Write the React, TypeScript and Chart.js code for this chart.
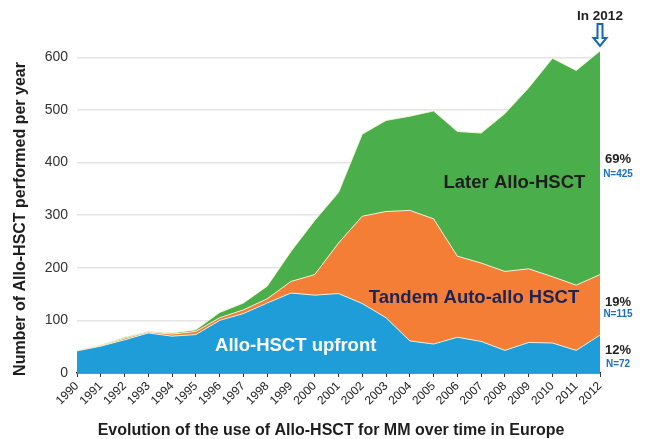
import React, { useEffect, useRef } from "react";
import { Chart, registerables } from "chart.js";

Chart.register(...registerables);

const years = [
  "1990", "1991", "1992", "1993", "1994", "1995", "1996", "1997", "1998", "1999", "2000",
  "2001", "2002", "2003", "2004", "2005", "2006", "2007", "2008", "2009", "2010", "2011", "2012",
];
const alloUpfront = [42, 51, 63, 76, 70, 73, 100, 113, 133, 152, 148, 151, 132, 105, 61, 55, 68, 60, 43, 58, 57, 43, 72];
const tandemAutoAllo = [1, 1, 3, 2, 4, 6, 5, 7, 8, 22, 39, 96, 166, 202, 248, 238, 154, 149, 150, 140, 126, 124, 115];
const laterAllo = [0, 1, 2, 1, 2, 3, 10, 13, 24, 57, 103, 96, 156, 173, 179, 205, 237, 247, 300, 344, 415, 408, 425];
const yTicks = [0, 100, 200, 300, 400, 500, 600];
const seriesNames = ["Allo-HSCT upfront", "Tandem Auto-allo HSCT", "Later Allo-HSCT"];
const sharePct = ["12%", "19%", "69%"];
const shareN = ["N=72", "N=115", "N=425"];

const BLUE = "#1f9dd8";
const ORANGE = "#f47e35";
const GREEN = "#4aaf4a";
const FONT = "'Liberation Sans', Arial, Helvetica, sans-serif";

export default function App() {
  const ref = useRef<HTMLCanvasElement | null>(null);

  useEffect(() => {
    document.body.style.margin = "0";
    const canvas = ref.current;
    if (!canvas) return;

    const overlay = {
      id: "overlay",
      afterDatasetsDraw(chart: any) {
        const ctx = chart.ctx;
        const xs = chart.scales.x;
        const ys = chart.scales.y;
        const area = chart.chartArea;
        ctx.save();
        ctx.textAlign = "center";
        ctx.textBaseline = "middle";

        // in-area series labels
        ctx.font = `bold 18.5px ${FONT}`;
        ctx.fillStyle = "#ffffff";
        ctx.fillText(seriesNames[0], xs.getPixelForValue(9.2), ys.getPixelForValue(52));
        ctx.fillStyle = "#1d2456";
        ctx.fillText(seriesNames[1], xs.getPixelForValue(16.7), ys.getPixelForValue(143));
        ctx.fillStyle = "#1e1e1e";
        ctx.fillText(seriesNames[2], xs.getPixelForValue(18.4), ys.getPixelForValue(361));

        // right side shares
        const rx = area.right + 18;
        const pctY = [42, 135, 405];
        const nY = [16, 111, 378];
        for (let i = 0; i < 3; i++) {
          ctx.font = `bold 13px ${FONT}`;
          ctx.fillStyle = "#222222";
          ctx.fillText(sharePct[i], rx, ys.getPixelForValue(pctY[i]));
          ctx.font = `bold 10px ${FONT}`;
          ctx.fillStyle = "#1a6fc0";
          ctx.fillText(shareN[i], rx, ys.getPixelForValue(nY[i]));
        }

        // "In 2012" + arrow
        const ax = xs.getPixelForValue(years.length - 1);
        ctx.font = `bold 13.5px ${FONT}`;
        ctx.fillStyle = "#222222";
        ctx.fillText("In 2012", ax, 16);
        const top = 24, shaftBottom = 38, tip = 46, sw = 2.5, hw = 6.5;
        ctx.beginPath();
        ctx.moveTo(ax - sw, top);
        ctx.lineTo(ax + sw, top);
        ctx.lineTo(ax + sw, shaftBottom);
        ctx.lineTo(ax + hw, shaftBottom);
        ctx.lineTo(ax, tip);
        ctx.lineTo(ax - hw, shaftBottom);
        ctx.lineTo(ax - sw, shaftBottom);
        ctx.closePath();
        ctx.fillStyle = "#ffffff";
        ctx.fill();
        ctx.lineWidth = 2;
        ctx.strokeStyle = "#1565b5";
        ctx.stroke();

        // axis titles
        ctx.font = `bold 16px ${FONT}`;
        ctx.fillStyle = "#1e1e1e";
        ctx.fillText("Evolution of the use of Allo-HSCT for MM over time in Europe", 331, 431);
        ctx.translate(21, 219);
        ctx.rotate(-Math.PI / 2);
        ctx.fillText("Number of Allo-HSCT performed per year", 0, 0);
        ctx.restore();
      },
    };

    const chart = new Chart(canvas, {
      type: "line",
      data: {
        labels: years,
        datasets: [
          {
            label: seriesNames[0],
            data: alloUpfront,
            backgroundColor: BLUE,
            borderColor: "rgba(245,245,225,0.9)",
            borderWidth: 1,
            fill: "origin",
            pointRadius: 0,
            tension: 0,
          },
          {
            label: seriesNames[1],
            data: tandemAutoAllo,
            backgroundColor: ORANGE,
            borderColor: "rgba(245,245,225,0.9)",
            borderWidth: 1,
            fill: "-1",
            pointRadius: 0,
            tension: 0,
          },
          {
            label: seriesNames[2],
            data: laterAllo,
            backgroundColor: GREEN,
            borderColor: "rgba(245,245,210,0.9)",
            borderWidth: 1,
            fill: "-1",
            pointRadius: 0,
            tension: 0,
          },
        ],
      },
      options: {
        responsive: false,
        animation: false,
        layout: { padding: { left: 0, right: 46, top: 31, bottom: 0 } },
        plugins: {
          legend: { display: false },
          tooltip: { enabled: false },
          title: { display: false },
        },
        scales: {
          x: {
            offset: false,
            border: { display: true, color: "#222222", width: 1.5 },
            grid: {
              drawOnChartArea: false,
              drawTicks: true,
              tickLength: 4,
              color: "#333333",
            },
            ticks: {
              autoSkip: false,
              maxRotation: 45,
              minRotation: 45,
              padding: 2,
              color: "#222222",
              font: { family: FONT, size: 12 },
            },
            afterFit(scale: any) {
              scale.height = 66;
            },
          },
          y: {
            stacked: true,
            min: 0,
            max: 650,
            border: { display: false },
            grid: { color: "#e4e4e4", lineWidth: 1.5, drawTicks: false },
            ticks: {
              padding: 9,
              color: "#333333",
              font: { family: FONT, size: 14 },
            },
            afterBuildTicks(scale: any) {
              scale.ticks = yTicks.map((v) => ({ value: v }));
            },
            afterFit(scale: any) {
              scale.width = 77;
            },
          },
        },
      },
      plugins: [overlay],
    } as any);

    return () => chart.destroy();
  }, []);

  return (
    <div style={{ width: 646, height: 439, background: "#ffffff" }}>
      <canvas ref={ref} width={646} height={439} style={{ display: "block" }} />
    </div>
  );
}
